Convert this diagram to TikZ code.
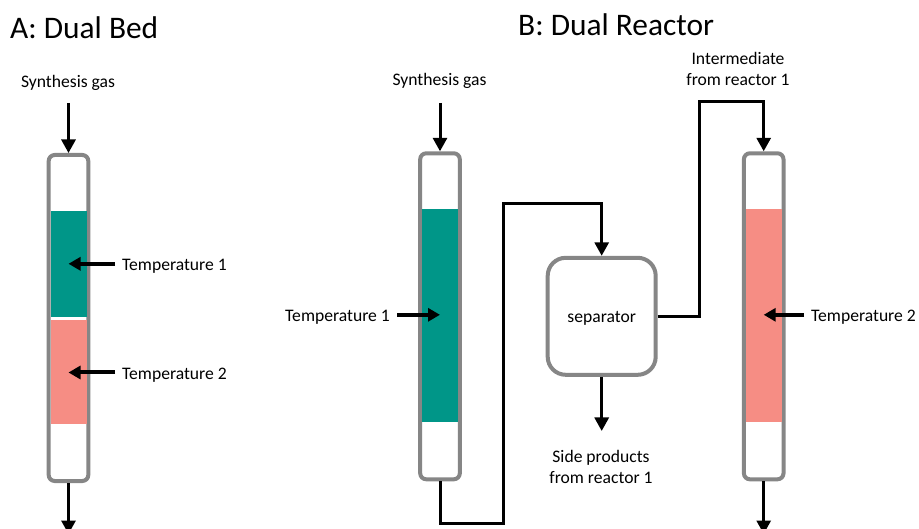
\documentclass[tikz,border=0pt]{standalone}
\usepackage{fontspec}
\setmainfont{Carlito}
\usetikzlibrary{arrows.meta}
\definecolor{teal1}{HTML}{009688}
\definecolor{pink1}{HTML}{F68D84}
\definecolor{gray1}{HTML}{868686}
\tikzset{
  reactor/.style={draw=gray1,line width=4pt,rounded corners=6pt,fill=white,minimum width=39.6pt,minimum height=326pt,inner sep=0pt},
  sepbox/.style={draw=gray1,line width=4pt,rounded corners=18pt,fill=white,minimum width=108pt,minimum height=117pt,inner sep=0pt,text height=12pt,text depth=0pt,font=\fontsize{17.6}{20}\selectfont},
  bedteal/.style={fill=teal1,draw=none,minimum width=36pt,inner sep=0pt,outer sep=0pt},
  bedpink/.style={fill=pink1,draw=none,minimum width=36pt,inner sep=0pt,outer sep=0pt},
  flow/.style={draw=black,line width=3pt,-{Triangle[length=13.5pt,width=14pt]}},
  heat/.style={draw=black,line width=4pt,-{Triangle[length=12pt,width=13pt]}},
  lbl/.style={font=\fontsize{17.6}{21}\selectfont,align=center,inner sep=0pt},
  heatlbl/.style={font=\fontsize{17.6}{20}\selectfont,inner ysep=0pt,inner xsep=7pt,text height=14pt,text depth=0pt},
  ttl/.style={font=\fontsize{31.4}{36}\selectfont,inner sep=0pt,anchor=west},
}
\begin{document}
\begin{tikzpicture}[x=1pt,y=-1pt]
\useasboundingbox (0,0) rectangle (919,529);
\clip (0,0) rectangle (919,529);
\node[ttl] (ta) at (10,28) {A: Dual Bed};
\node[ttl] (tb) at (518,25) {B: Dual Reactor};
% reactors
\node[reactor] (r1) at (68.5,318) {};
\node[reactor] (r2) at (440,316.3) {};
\node[reactor] (r3) at (763.7,316.3) {};
\node[sepbox] (sep) at (601.7,316.3) {separator};
% beds
\node[bedteal,minimum height=105.6pt] (b1) at (68.5,263.8) {};
\node[bedpink,minimum height=104pt] (b2) at (68.5,372) {};
\node[bedteal,minimum height=213pt] (b3) at (440,315.8) {};
\node[bedpink,minimum height=213pt] (b4) at (763.7,315.8) {};
% labels
\node[lbl] (s1) at (68,82.5) {Synthesis gas};
\node[lbl] (s2) at (439.5,80.5) {Synthesis gas};
\node[lbl] (im) at (738,68.5) {Intermediate\\from reactor 1};
\node[lbl] (sp) at (601,467) {Side products\\from reactor 1};
\node[heatlbl,anchor=west] (h1) at (115,263.8) {Temperature 1};
\node[heatlbl,anchor=west] (h2) at (115,372.5) {Temperature 2};
\node[heatlbl,anchor=east] (h3) at (397,314.8) {Temperature 1};
\node[heatlbl,anchor=west] (h4) at (804,314.8) {Temperature 2};
% free ends
\coordinate (s1a) at (68.5,103);
\coordinate (s2a) at (440,103);
\coordinate (o1) at (68.5,534);
\coordinate (o3) at (763.7,534);
\coordinate (spend) at (601.7,431);
\coordinate (p1) at (440,523.5);
\coordinate (p2) at (503,523.5);
\coordinate (p3) at (503,204);
\coordinate (p4) at (601.7,204);
\coordinate (q1) at (699.5,316.3);
\coordinate (q2) at (699.5,102);
\coordinate (q3) at (763.7,102);
% connectors
\draw[flow] (s1a) -- (r1.north);
\draw[flow] (s2a) -- (r2.north);
\draw[flow] (r1.south) -- (o1);
\draw[flow] (r3.south) -- (o3);
\draw[flow] (sep.south) -- (spend);
\draw[flow] (r2.south) -- (p1) -- (p2) -- (p3) -- (p4) -- (sep.north);
\draw[flow] (sep.east) -- (q1) -- (q2) -- (q3) -- (r3.north);
\draw[heat] (h1.west) -- (h1.west -| b1.center);
\draw[heat] (h2.west) -- (h2.west -| b2.center);
\draw[heat] (h3.east) -- (h3.east -| b3.center);
\draw[heat] (h4.west) -- (h4.west -| b4.center);
\end{tikzpicture}
\end{document}
